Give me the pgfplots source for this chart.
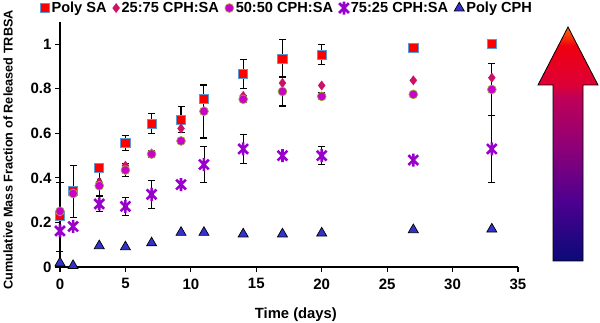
\documentclass[border=0pt]{standalone}
\usepackage{pgfplots}
\pgfplotsset{compat=1.18}
\usepackage{fontspec}
\setmainfont{Liberation Sans}
\definecolor{saRed}{HTML}{FF0000}
\definecolor{saEdge}{HTML}{5B9BD5}
\definecolor{dia}{HTML}{CC1166}
\definecolor{circ}{HTML}{CC00CC}
\definecolor{circEdge}{HTML}{99AA33}
\definecolor{ast}{HTML}{9900CC}
\definecolor{tri}{HTML}{3333CC}
\definecolor{arNavy}{HTML}{0A0A78}
\definecolor{arPurp}{HTML}{4E0090}
\definecolor{arMag}{HTML}{8C0078}
\definecolor{arCrim}{HTML}{C00058}
\definecolor{arRed}{HTML}{DC0038}
\definecolor{arRed2}{HTML}{F00010}
\definecolor{arOrng}{HTML}{FF6A00}
\pgfdeclareverticalshading{arrowshade}{100bp}{color(0bp)=(arNavy); color(25bp)=(arNavy); color(38bp)=(arPurp); color(49bp)=(arMag); color(60bp)=(arCrim); color(62.5bp)=(arRed); color(71bp)=(arRed2); color(75bp)=(arOrng); color(100bp)=(arOrng)}
\pgfdeclareplotmark{xast}{%
  \pgfpathmoveto{\pgfqpoint{-0.75\pgfplotmarksize}{-0.75\pgfplotmarksize}}%
  \pgfpathlineto{\pgfqpoint{0.75\pgfplotmarksize}{0.75\pgfplotmarksize}}%
  \pgfpathmoveto{\pgfqpoint{-0.75\pgfplotmarksize}{0.75\pgfplotmarksize}}%
  \pgfpathlineto{\pgfqpoint{0.75\pgfplotmarksize}{-0.75\pgfplotmarksize}}%
  \pgfpathmoveto{\pgfqpoint{0pt}{-\pgfplotmarksize}}%
  \pgfpathlineto{\pgfqpoint{0pt}{\pgfplotmarksize}}%
  \pgfusepathqstroke}

\pgfplotstableread{
x y
0 0.23
1 0.34
3 0.445
5 0.557
7 0.644
9.25 0.662
11 0.753
14 0.868
17 0.936
20 0.954
27 0.982
33 1.0
}\polySA
\pgfplotstableread{
x y e
0 0.225 0.155
1 0.338 0.117
3 0.445 0.012
5 0.557 0.033
7 0.644 0.045
9.25 0.662 0.06
11 0.753 0.063
14 0.868 0.065
17 0.936 0.085
20 0.954 0.043
33 1.0 0.012
}\polySAerr
\pgfplotstableread{
x y
0 0.24
1 0.34
3 0.38
5 0.455
7 0.51
9.25 0.622
11 0.70
14 0.768
17 0.826
20 0.815
27 0.838
33 0.85
}\cphA
\pgfplotstableread{
x y e
3 0.39 0.07
5 0.435 0.03
}\cphAerr
\pgfplotstableread{
x y
0 0.25
1 0.33
3 0.365
5 0.435
7 0.507
9.25 0.566
11 0.699
14 0.753
17 0.788
20 0.766
27 0.775
33 0.797
}\cphB
\pgfplotstableread{
x y e
7 0.507 0.015
11 0.699 0.12
14 0.753 0.015
17 0.788 0.065
20 0.766 0.015
33 0.797 0.115
}\cphBerr
\pgfplotstableread{
x y
0 0.162
1 0.182
3 0.283
5 0.272
7 0.326
9.25 0.37
11 0.46
14 0.53
17 0.50
20 0.50
27 0.48
33 0.53
}\cphC
\pgfplotstableread{
x y e
3 0.283 0.033
5 0.272 0.04
7 0.326 0.063
11 0.46 0.08
14 0.53 0.067
20 0.50 0.04
33 0.53 0.15
}\cphCerr
\pgfplotstableread{
x y
0 0.018
1 0.006
3 0.095
5 0.09
7 0.108
9.25 0.155
11 0.155
14 0.148
17 0.148
20 0.152
27 0.167
33 0.17
}\polyCPH

\begin{document}
\begin{tikzpicture}
\path[use as bounding box] (-60pt,-56pt) rectangle (540pt,267pt);
\begin{axis}[
  scale only axis, width=458pt, height=245pt,
  xmin=0, xmax=35, ymin=0, ymax=1.1,
  axis lines=left, axis line style={-, line width=1.3pt},
  xtick={0,5,10,15,20,25,30,35}, ytick={0,0.2,0.4,0.6,0.8,1},
  tick style={black, line width=1.1pt}, tick align=outside, major tick length=5pt,
  /pgf/number format/assume math mode=true,
  ticklabel style={font=\bfseries\fontsize{15}{15}\selectfont},
  xticklabel style={yshift=-3pt},
  xlabel={Time (days)}, ylabel={Cumulative Mass Fraction of Released TRBSA},
  xlabel style={font=\bfseries\fontsize{14.8}{15}\selectfont, at={(axis description cs:0.515,-0.196)}, anchor=center},
  ylabel style={font=\bfseries\fontsize{12.7}{13}\selectfont, at={(axis description cs:-0.1135,0.478)}, anchor=center},
  clip=false,
  legend columns=-1,
  legend style={draw=none, fill=none, at={(rel axis cs:0.496,1.057)}, anchor=center,
    font=\bfseries\fontsize{14.6}{15}\selectfont,
    /tikz/every even column/.append style={column sep=4pt},
    inner sep=0pt},
  legend image code/.code={\draw[mark repeat=2,mark phase=2] plot coordinates {(0cm,0cm) (0.13cm,0cm) (0.26cm,0cm)};},
]
\pgfplotsset{myerr/.style={black, only marks, mark=none, forget plot, error bars/.cd, y dir=both, y explicit,
  error bar style={black, line width=1.1pt}, error mark options={rotate=90, black, mark size=3.5pt, line width=1.1pt}}}
\addplot[myerr] table[x=x, y=y, y error=e] {\polySAerr};
\addplot[myerr] table[x=x, y=y, y error=e] {\cphAerr};
\addplot[myerr] table[x=x, y=y, y error=e] {\cphBerr};
\pgfplotsset{myerrthin/.style={black, only marks, mark=none, forget plot, error bars/.cd, y dir=both, y explicit,
  error bar style={black, line width=0.8pt}, error mark options={rotate=90, black, mark size=3.5pt, line width=0.8pt}}}
\addplot[myerrthin] table[x=x, y=y, y error=e] {\cphCerr};
\addplot[only marks, mark=square*, mark size=4.6pt, mark options={fill=saRed, draw=saEdge, line width=0.8pt}] table[x=x,y=y] {\polySA};
\addlegendentry{Poly SA}
\addplot[only marks, mark=diamond*, mark size=4.6pt, mark options={fill=dia, draw=dia}] table[x=x,y=y] {\cphA};
\addlegendentry{25:75 CPH:SA}
\addplot[only marks, mark=*, mark size=4.4pt, mark options={fill=circ, draw=circEdge, line width=0.7pt}] table[x=x,y=y] {\cphB};
\addlegendentry{50:50 CPH:SA}
\addplot[only marks, mark=xast, mark size=6.5pt, mark options={draw=ast, line width=2.6pt}] table[x=x,y=y] {\cphC};
\addlegendentry{75:25 CPH:SA}
\addplot[only marks, mark=triangle*, mark size=5.8pt, mark options={fill=tri, draw=black, line width=0.7pt}] table[x=x,y=y] {\polyCPH};
\addlegendentry{Poly CPH}
\end{axis}
\shadedraw[shading=arrowshade, draw=black, line width=0.8pt] (493pt,6pt) -- (493pt,182pt) -- (478pt,182pt) -- (508pt,240pt) -- (538pt,182pt) -- (523pt,182pt) -- (523pt,6pt) -- cycle;
\end{tikzpicture}
\end{document}
